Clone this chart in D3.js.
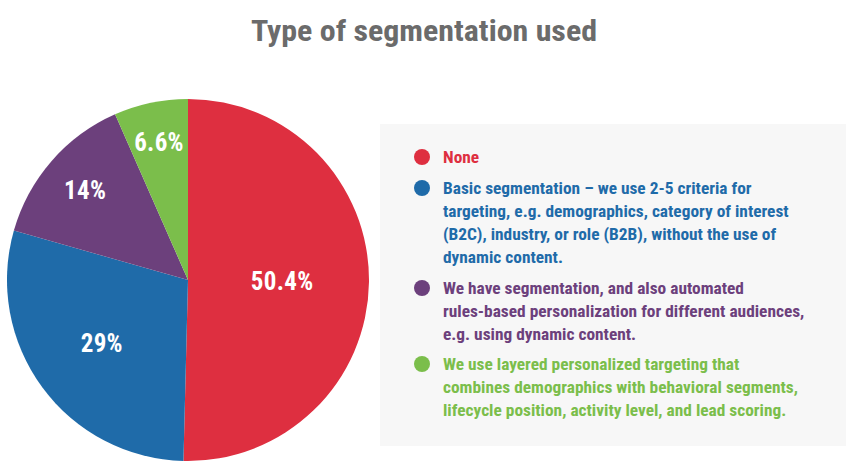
<!DOCTYPE html>
<html><head><meta charset="utf-8">
<script src="https://cdn.jsdelivr.net/npm/d3@7/dist/d3.min.js"></script>
<style>
html,body{margin:0;padding:0;background:#fff;}
svg{display:block;}
text{font-family:"Liberation Sans Narrow","Roboto Condensed","DejaVu Sans Condensed",sans-serif;font-weight:bold;}
</style></head>
<body>
<svg id="chart" width="850" height="475"></svg>
<script>
const title = "Type of segmentation used";
const categories = ["None", "Basic segmentation", "Automated rules-based personalization", "Layered personalized targeting"];
const values = [50.4, 29, 14, 6.6];
const valueLabels = ["50.4%", "29%", "14%", "6.6%"];
const colors = ["#de2f40", "#1f6ba9", "#6c407c", "#7bbe4b"];
const legendLines = [
  ["None"],
  ["Basic segmentation \u2013 we use 2-5 criteria for", "targeting, e.g. demographics, category of interest", "(B2C), industry, or role (B2B), without the use of", "dynamic content."],
  ["We have segmentation, and also automated", "rules-based personalization for different audiences,", "e.g. using dynamic content."],
  ["We use layered personalized targeting that", "combines demographics with behavioral segments,", "lifecycle position, activity level, and lead scoring."]
];

const svg = d3.select("#chart");

svg.append("text")
  .attr("x", 251).attr("y", 41)
  .attr("fill", "#6b6b6b")
  .attr("font-size", 29)
  .attr("textLength", 346)
  .attr("lengthAdjust", "spacingAndGlyphs")
  .text(title);

const cx = 188, cy = 280, r = 181;
const pie = d3.pie().sort(null).value(d => d)(values);
const arc = d3.arc().innerRadius(0).outerRadius(r);
const g = svg.append("g").attr("transform", `translate(${cx},${cy})`);
g.selectAll("path").data(pie).join("path")
  .attr("d", arc)
  .attr("fill", (d, i) => colors[i]);

// label radius: smaller slices put their label further out
const labelRadius = d3.scaleLinear().domain([0, 0.3, 0.6, 1]).range([0.8, 0.75, 0.58, 0.52]).clamp(true);
g.selectAll("text.lbl").data(pie).join("text")
  .attr("class", "lbl")
  .attr("transform", d => {
    const f = (d.endAngle - d.startAngle) / Math.PI;
    const lr = r * labelRadius(f);
    const a = (d.startAngle + d.endAngle) / 2;
    return `translate(${lr * Math.sin(a)},${-lr * Math.cos(a)})`;
  })
  .attr("text-anchor", "middle")
  .attr("dy", "0.36em")
  .attr("fill", "#fff")
  .attr("font-size", 25)
  .attr("letter-spacing", 0.3)
  .text((d, i) => valueLabels[i]);

// legend
svg.append("rect")
  .attr("x", 380).attr("y", 124).attr("width", 466).attr("height", 322)
  .attr("fill", "#f7f7f7");

const lineH = 23;
const groupStarts = [157, 188, 288, 364];
legendLines.forEach((lines, i) => {
  const y0 = groupStarts[i];
  svg.append("circle").attr("cx", 422).attr("cy", y0).attr("r", 8).attr("fill", colors[i]);
  const tg = svg.append("g").attr("transform", "translate(443,0) scale(1.085,1)");
  lines.forEach((t, j) => {
    tg.append("text")
      .attr("x", 0).attr("y", y0 + j * lineH)
      .attr("dy", "0.36em")
      .attr("fill", colors[i])
      .attr("font-size", 16)
      .text(t);
  });
});
</script>
</body></html>
